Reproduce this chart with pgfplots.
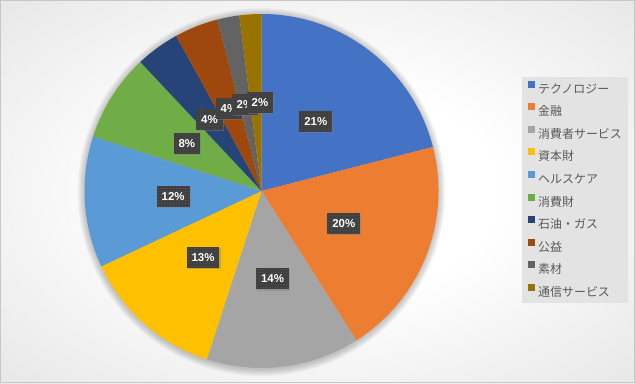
\documentclass[border=0pt]{standalone}
\usepackage{pgfplots}
\pgfplotsset{compat=1.18}
\usepackage{pgfplotstable}
\usepackage{fontspec}
\setmainfont{Liberation Sans}
\newfontfamily\jp{Noto Sans CJK JP}
\usetikzlibrary{shadows,patterns}

\definecolor{c1}{HTML}{4472C4}
\definecolor{c2}{HTML}{ED7D31}
\definecolor{c3}{HTML}{A5A5A5}
\definecolor{c4}{HTML}{FFC000}
\definecolor{c5}{HTML}{5B9BD5}
\definecolor{c6}{HTML}{70AD47}
\definecolor{c7}{HTML}{264478}
\definecolor{c8}{HTML}{9E480E}
\definecolor{c9}{HTML}{636363}
\definecolor{c10}{HTML}{997300}
\definecolor{bgedge}{HTML}{C0C0C0}
\definecolor{legfill}{HTML}{E3E3E3}
\definecolor{legtext}{HTML}{595959}
\definecolor{lblgray}{HTML}{404040}
\definecolor{lbldot}{HTML}{5E5E5E}

\pgfdeclareradialshading{bgshade}{\pgfpoint{0bp}{0bp}}{color(0bp)=(white); color(14bp)=(white); color(71bp)=(bgedge)}

\tikzset{lbl/.style={fill=lblgray, text=white,
    font=\fontsize{11.5}{12}\selectfont\bfseries,
    inner xsep=5bp, inner ysep=0pt, minimum height=21bp,
    text height=8.3bp, text depth=0pt,
    drop shadow={shadow xshift=1.2bp, shadow yshift=-1.2bp, opacity=0.45},
    postaction={pattern=dots, pattern color=lbldot}}}

% value colour label-offset (dx dy, in px)
\pgfplotstableread{
value color dx dy
21 c1 0 0
20 c2 0 0
14 c3 0 0
13 c4 0 0
12 c5 0 0
8  c6 0 0
4  c7 0 0
4  c8 0 0
2  c9 0 0
2  c10 4 0
}\piedata

\begin{document}
\begin{tikzpicture}
\begin{axis}[
  x=1bp, y=1bp, xmin=0, xmax=635, ymin=0, ymax=383,
  hide axis, clip=false,
  legend cell align=left,
  legend image code/.code={\fill[#1, draw=none] (0bp,0.9bp) rectangle (7bp,7.9bp);},
  legend style={
    at={(axis cs:522,306)}, anchor=north west,
    draw=none, fill=legfill,
    font=\jp\fontsize{12}{13}\selectfont, text=legtext,
    inner xsep=6bp, inner ysep=0bp,
    row sep=0pt,
    /tikz/every odd column/.append style={column sep=3bp},
    nodes={inner sep=0pt, text height=15.9bp, text depth=6.7bp},
  },
]
\addlegendimage{fill=c1}\addlegendentry{テクノロジー}
\addlegendimage{fill=c2}\addlegendentry{金融}
\addlegendimage{fill=c3}\addlegendentry{消費者サービス}
\addlegendimage{fill=c4}\addlegendentry{資本財}
\addlegendimage{fill=c5}\addlegendentry{ヘルスケア}
\addlegendimage{fill=c6}\addlegendentry{消費財}
\addlegendimage{fill=c7}\addlegendentry{石油・ガス}
\addlegendimage{fill=c8}\addlegendentry{公益}
\addlegendimage{fill=c9}\addlegendentry{素材}
\addlegendimage{fill=c10}\addlegendentry{通信サービス}

\pgfplotsextra{
  \fill[shading=bgshade] (axis cs:0,0) rectangle (axis cs:635,383);
  \draw[black!22, line width=0.8bp] (axis cs:0.4,0.4) rectangle (axis cs:634.6,382.6);
  % soft shadow round the pie
  \foreach \k in {1,...,7}{
    \fill[black, opacity=0.03] (axis cs:261.5,191) circle[radius={(177+\k)*1bp}];
  }
  % wedges
  \gdef\curang{90}
  \foreach \i in {0,...,9}{
    \pgfplotstablegetelem{\i}{value}\of\piedata \let\val\pgfplotsretval
    \pgfplotstablegetelem{\i}{color}\of\piedata \let\col\pgfplotsretval
    \pgfmathsetmacro\endang{\curang-3.6*\val}
    \fill[\col] (axis cs:261.5,192) -- ++(\curang:177bp)
       arc[start angle=\curang, end angle=\endang, radius=177bp] -- cycle;
    \xdef\curang{\endang}
  }
  % labels
  \gdef\curang{90}
  \foreach \i in {0,...,9}{
    \pgfplotstablegetelem{\i}{value}\of\piedata \let\val\pgfplotsretval
    \pgfplotstablegetelem{\i}{dx}\of\piedata \let\ddx\pgfplotsretval
    \pgfplotstablegetelem{\i}{dy}\of\piedata \let\ddy\pgfplotsretval
    \pgfmathsetmacro\midang{\curang-1.8*\val}
    \pgfmathsetmacro\endang{\curang-3.6*\val}
    \path (axis cs:261.5,192) ++(\midang:88.5bp) ++(\ddx bp,\ddy bp) node[lbl] {\val\%};
    \xdef\curang{\endang}
  }
}
\end{axis}
\end{tikzpicture}
\end{document}
